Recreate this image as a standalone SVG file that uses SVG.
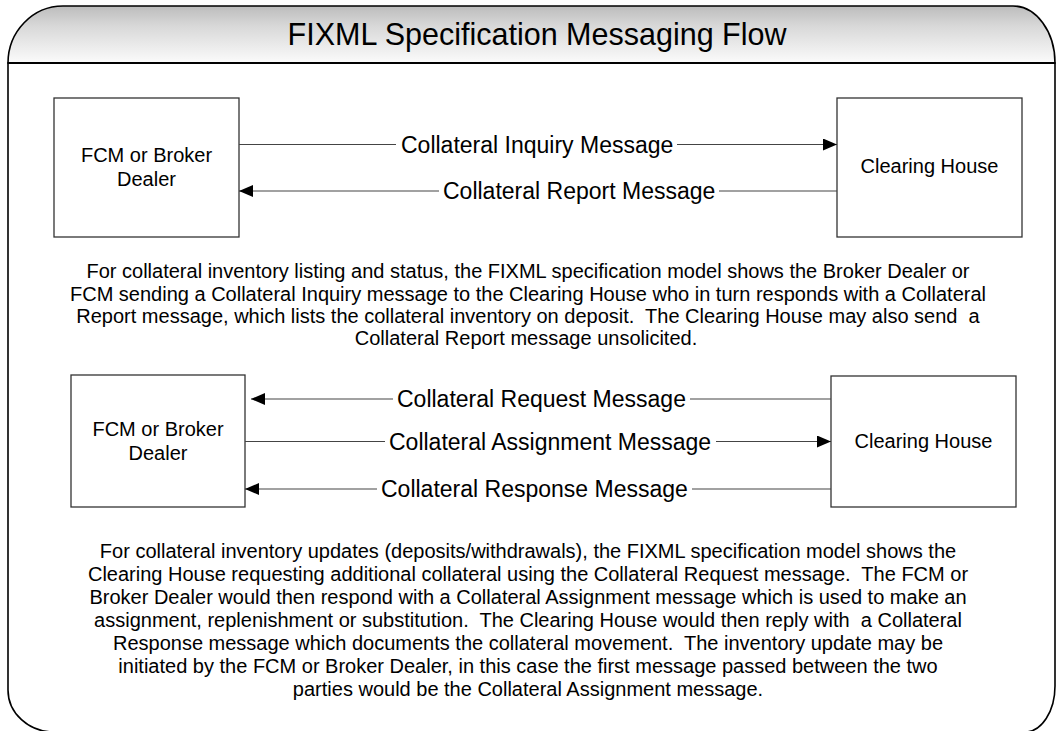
<svg xmlns="http://www.w3.org/2000/svg" width="1057" height="731" viewBox="0 0 1057 731">
<style>
text{font-family:"Liberation Sans",Arial,sans-serif;fill:#000}
.title{font-size:30.5px;text-anchor:middle}
.box{fill:#fff;stroke:#333;stroke-width:1.3}
.bt{font-size:20px;text-anchor:middle}
.lbl{font-size:23px}
.conn{fill:none;stroke:#444;stroke-width:1.2}
.para{font-size:20px;text-anchor:middle}
</style>
<defs>
<linearGradient id="hdr" x1="0" y1="0" x2="0" y2="1">
<stop offset="0" stop-color="#bcbcbc"/>
<stop offset="0.35" stop-color="#d8d8d8"/>
<stop offset="1" stop-color="#fbfbfb"/>
</linearGradient>
<marker id="arr" markerUnits="userSpaceOnUse" markerWidth="14" markerHeight="12" refX="14" refY="6" orient="auto">
<path d="M0,0 L14,6 L0,12 Z" fill="#000"/>
</marker>
</defs>
<g id="frame">
<path d="M8,63 L8,690 A46,42 0 0 0 54,732 L1025,732 A30,46 0 0 0 1055,686 L1055,63 Z" fill="#fff" stroke="#000" stroke-width="1.6"/>
<path d="M8,63 A55,57 0 0 1 63,6 L1013,6 A42,57 0 0 1 1055,63 Z" fill="url(#hdr)" stroke="#000" stroke-width="1.6"/>
<line x1="8" y1="63" x2="1055" y2="63" stroke="#000" stroke-width="2.2"/>
<text class="title" x="537" y="45">FIXML Specification Messaging Flow</text>
</g>
<g id="fcm1">
<rect class="box" x="54" y="98" width="185" height="139"/>
<text class="bt" x="146.5" y="162">FCM or Broker</text>
<text class="bt" x="146.5" y="186">Dealer</text>
</g>
<g id="ch1">
<rect class="box" x="837" y="98" width="185" height="139"/>
<text class="bt" x="929.5" y="173">Clearing House</text>
</g>
<g id="fcm2">
<rect class="box" x="71" y="375" width="174" height="132"/>
<text class="bt" x="158" y="436">FCM or Broker</text>
<text class="bt" x="158" y="460">Dealer</text>
</g>
<g id="ch2">
<rect class="box" x="831" y="376" width="185" height="131"/>
<text class="bt" x="923.5" y="448">Clearing House</text>
</g>
<g id="connectors">
<path class="conn" d="M239,144.5 H396 M677,144.5 H837" marker-end="url(#arr)"/>
<text class="lbl" x="401" y="152.7">Collateral Inquiry Message</text>
<path class="conn" d="M837,191 H719 M439,191 H239" marker-end="url(#arr)"/>
<text class="lbl" x="443" y="199.2">Collateral Report Message</text>
<path class="conn" d="M831,399 H690 M393,399 H251" marker-end="url(#arr)"/>
<text class="lbl" x="397" y="407.2">Collateral Request Message</text>
<path class="conn" d="M245,441.5 H385 M716,441.5 H831" marker-end="url(#arr)"/>
<text class="lbl" x="389" y="449.7">Collateral Assignment Message</text>
<path class="conn" d="M831,489 H692 M377,489 H245" marker-end="url(#arr)"/>
<text class="lbl" x="381" y="497.2">Collateral Response Message</text>
</g>
<g id="para1">
<text class="para" x="528" y="278" xml:space="preserve">For collateral inventory listing and status, the FIXML specification model shows the Broker Dealer or</text>
<text class="para" x="528" y="301" xml:space="preserve">FCM sending a Collateral Inquiry message to the Clearing House who in turn responds with a Collateral</text>
<text class="para" x="528" y="323" xml:space="preserve">Report message, which lists the collateral inventory on deposit.  The Clearing House may also send  a</text>
<text class="para" x="526" y="345" xml:space="preserve">Collateral Report message unsolicited.</text>
</g>
<g id="para2">
<text class="para" x="528" y="558" xml:space="preserve">For collateral inventory updates (deposits/withdrawals), the FIXML specification model shows the</text>
<text class="para" x="528" y="581" xml:space="preserve">Clearing House requesting additional collateral using the Collateral Request message.  The FCM or</text>
<text class="para" x="528" y="604" xml:space="preserve">Broker Dealer would then respond with a Collateral Assignment message which is used to make an</text>
<text class="para" x="528" y="627" xml:space="preserve">assignment, replenishment or substitution.  The Clearing House would then reply with  a Collateral</text>
<text class="para" x="528" y="650" xml:space="preserve">Response message which documents the collateral movement.  The inventory update may be</text>
<text class="para" x="528" y="673" xml:space="preserve">initiated by the FCM or Broker Dealer, in this case the first message passed between the two</text>
<text class="para" x="528" y="696" xml:space="preserve">parties would be the Collateral Assignment message.</text>
</g>
</svg>
